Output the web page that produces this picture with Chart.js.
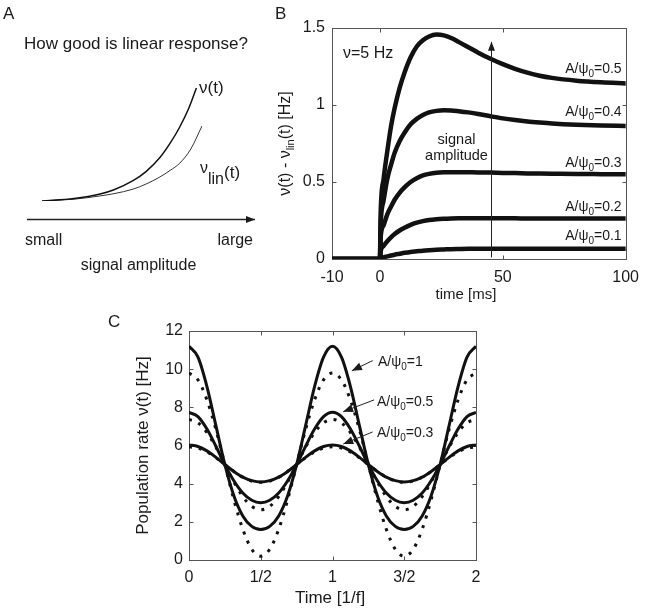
<!DOCTYPE html>
<html>
<head>
<meta charset="utf-8">
<script src="https://cdn.jsdelivr.net/npm/chart.js@4.4.1/dist/chart.umd.min.js"></script>
<style>
  body { margin: 0; background: #fff; width: 648px; height: 610px; position: relative; overflow: hidden; }
  canvas { position: absolute; }
</style>
</head>
<body>
<canvas id="chartA" width="270" height="300" style="left:0;top:0"></canvas>
<canvas id="chartB" width="378" height="310" style="left:270px;top:0"></canvas>
<canvas id="chartC" width="400" height="305" style="left:90px;top:305px"></canvas>
<script>
// ---- panel A: schematic, response vs signal amplitude (arbitrary units)
const ampNu = [0, 0.2, 0.363, 0.45, 0.569, 0.65, 0.737, 0.8, 0.861, 0.92, 0.965];
const rateNu = [0, 0.022, 0.062, 0.1, 0.18, 0.26, 0.385, 0.51, 0.655, 0.83, 1.0];
const ampLin = [0, 0.2, 0.363, 0.45, 0.569, 0.65, 0.737, 0.8, 0.861, 0.93, 1.0];
const rateLin = [0, 0.016, 0.045, 0.065, 0.105, 0.15, 0.213, 0.27, 0.335, 0.46, 0.664];

// ---- panel B: nu(t) - nu_lin(t) [Hz] vs time [ms]
const timeB = [-19.5, 0, 0.3, 1.5, 3, 4.5, 6, 8, 10, 12.5, 15, 17.5, 20, 23, 26, 29, 32, 36, 40, 45, 50, 55, 60, 65, 70, 80, 90, 100];
const diffB05 = [0, 0, 0.3, 0.52, 0.7, 0.86, 0.98, 1.11, 1.21, 1.31, 1.38, 1.42, 1.445, 1.457, 1.452, 1.435, 1.41, 1.375, 1.34, 1.3, 1.265, 1.235, 1.21, 1.19, 1.176, 1.158, 1.147, 1.14];
const diffB04 = [0, 0, 0.22, 0.38, 0.52, 0.61, 0.69, 0.765, 0.82, 0.875, 0.91, 0.935, 0.952, 0.962, 0.966, 0.965, 0.96, 0.952, 0.942, 0.927, 0.913, 0.902, 0.893, 0.886, 0.88, 0.872, 0.867, 0.864];
const diffB03 = [0, 0, 0.14, 0.22, 0.29, 0.34, 0.385, 0.43, 0.465, 0.5, 0.525, 0.543, 0.553, 0.56, 0.563, 0.564, 0.564, 0.563, 0.562, 0.561, 0.559, 0.558, 0.556, 0.555, 0.554, 0.552, 0.551, 0.55];
const diffB02 = [0, 0, 0.05, 0.085, 0.115, 0.14, 0.162, 0.185, 0.203, 0.222, 0.236, 0.246, 0.253, 0.258, 0.261, 0.263, 0.264, 0.264, 0.264, 0.264, 0.264, 0.264, 0.263, 0.263, 0.263, 0.263, 0.263, 0.263];
const diffB01 = [0, 0, 0.005, 0.011, 0.017, 0.023, 0.028, 0.034, 0.04, 0.046, 0.05, 0.054, 0.057, 0.06, 0.062, 0.064, 0.065, 0.066, 0.066, 0.066, 0.066, 0.066, 0.066, 0.066, 0.066, 0.066, 0.066, 0.066];
const ampLabelsB = ['0.5', '0.4', '0.3', '0.2', '0.1'];
const xTicksB = [-19.5, 0, 50, 100];
const xTickLabelsB = ['-10', '0', '50', '100'];
const yTicksB = [0, 0.5, 1, 1.5];
const yTickLabelsB = ['0', '0.5', '1', '1.5'];

// ---- panel C: population rate [Hz] over two periods
const timeC = [0, 0.0625, 0.125, 0.1875, 0.25, 0.3125, 0.375, 0.4375, 0.5, 0.5625, 0.625, 0.6875, 0.75, 0.8125, 0.875, 0.9375, 1,
  1.0625, 1.125, 1.1875, 1.25, 1.3125, 1.375, 1.4375, 1.5, 1.5625, 1.625, 1.6875, 1.75, 1.8125, 1.875, 1.9375, 2];
const rateC10 = [11.2, 10.63, 9.09, 7.04, 5, 3.37, 2.31, 1.76, 1.6, 1.76, 2.31, 3.37, 5, 7.04, 9.09, 10.63, 11.2,
  10.63, 9.09, 7.04, 5, 3.37, 2.31, 1.76, 1.6, 1.76, 2.31, 3.37, 5, 7.04, 9.09, 10.63, 11.2];
const linC10 = [9.8, 9.44, 8.39, 6.84, 5, 3.16, 1.61, 0.56, 0.2, 0.56, 1.61, 3.16, 5, 6.84, 8.39, 9.44, 9.8,
  9.44, 8.39, 6.84, 5, 3.16, 1.61, 0.56, 0.2, 0.56, 1.61, 3.16, 5, 6.84, 8.39, 9.44, 9.8];
const rateC05 = [7.74, 7.51, 6.86, 5.96, 5, 4.15, 3.51, 3.13, 3.0, 3.13, 3.51, 4.15, 5, 5.96, 6.86, 7.51, 7.74,
  7.51, 6.86, 5.96, 5, 4.15, 3.51, 3.13, 3.0, 3.13, 3.51, 4.15, 5, 5.96, 6.86, 7.51, 7.74];
const linC05 = [7.37, 7.19, 6.68, 5.91, 5, 4.09, 3.32, 2.81, 2.63, 2.81, 3.32, 4.09, 5, 5.91, 6.68, 7.19, 7.37,
  7.19, 6.68, 5.91, 5, 4.09, 3.32, 2.81, 2.63, 2.81, 3.32, 4.09, 5, 5.91, 6.68, 7.19, 7.37];
const rateC03 = [6.03, 5.95, 5.72, 5.38, 5, 4.64, 4.34, 4.16, 4.09, 4.16, 4.34, 4.64, 5, 5.38, 5.72, 5.95, 6.03,
  5.95, 5.72, 5.38, 5, 4.64, 4.34, 4.16, 4.09, 4.16, 4.34, 4.64, 5, 5.38, 5.72, 5.95, 6.03];
const linC03 = [5.93, 5.86, 5.66, 5.36, 5, 4.64, 4.34, 4.14, 4.07, 4.14, 4.34, 4.64, 5, 5.36, 5.66, 5.86, 5.93,
  5.86, 5.66, 5.36, 5, 4.64, 4.34, 4.14, 4.07, 4.14, 4.34, 4.64, 5, 5.36, 5.66, 5.86, 5.93];
const ampLabelsC = ['1', '0.5', '0.3'];
const xTicksC = [0, 0.5, 1, 1.5, 2];
const xTickLabelsC = ['0', '1/2', '1', '3/2', '2'];
const yTicksC = [0, 2, 4, 6, 8, 10, 12];

const FONT = '"Liberation Sans", Arial, sans-serif';
const INK = '#111';
Chart.defaults.font.family = FONT;
Chart.defaults.color = '#1a1a1a';
Chart.defaults.animation = false;

const zip = (xs, ys) => xs.map((x, i) => ({ x, y: ys[i] }));

function richText(ctx, parts, x, y, align) {
  let w = 0;
  parts.forEach(p => { ctx.font = p[1] + 'px ' + FONT; w += ctx.measureText(p[0]).width; });
  let cx = align === 'right' ? x - w : align === 'center' ? x - w / 2 : x;
  ctx.textAlign = 'left';
  ctx.textBaseline = 'alphabetic';
  parts.forEach(p => {
    ctx.font = p[1] + 'px ' + FONT;
    ctx.fillText(p[0], cx, y + (p[2] || 0));
    cx += ctx.measureText(p[0]).width;
  });
}

function arrow(ctx, x0, y0, x1, y1, len, half) {
  ctx.beginPath();
  ctx.moveTo(x0, y0);
  ctx.lineTo(x1, y1);
  ctx.stroke();
  const a = Math.atan2(y1 - y0, x1 - x0);
  const bx = x1 - len * Math.cos(a), by = y1 - len * Math.sin(a);
  ctx.beginPath();
  ctx.moveTo(x1, y1);
  ctx.lineTo(bx + half * Math.sin(a), by - half * Math.cos(a));
  ctx.lineTo(bx - half * Math.sin(a), by + half * Math.cos(a));
  ctx.closePath();
  ctx.fill();
}

// matlab style box with inward ticks on all four sides
const frame = {
  id: 'frame',
  beforeDatasetsDraw(chart) {
    const { ctx, chartArea: a } = chart;
    const x = chart.scales.x, y = chart.scales.y;
    if (!x.options.display) return;
    ctx.save();
    ctx.strokeStyle = '#555';
    ctx.lineWidth = 1;
    const L = Math.round(a.left) + 0.5, R = Math.round(a.right) + 0.5;
    const T = Math.round(a.top) + 0.5, B = Math.round(a.bottom) + 0.5;
    ctx.strokeRect(L, T, R - L, B - T);
    ctx.beginPath();
    x.ticks.forEach(t => {
      const p = Math.round(x.getPixelForValue(t.value)) + 0.5;
      ctx.moveTo(p, B); ctx.lineTo(p, B - 4);
      ctx.moveTo(p, T); ctx.lineTo(p, T + 4);
    });
    y.ticks.forEach(t => {
      const p = Math.round(y.getPixelForValue(t.value)) + 0.5;
      ctx.moveTo(L, p); ctx.lineTo(L + 4, p);
      ctx.moveTo(R, p); ctx.lineTo(R - 4, p);
    });
    ctx.stroke();
    ctx.restore();
  }
};

function fixedTicks(values, labels) {
  return {
    afterBuildTicks: s => { s.ticks = values.map(v => ({ value: v })); },
    ticks: { autoSkip: false, maxRotation: 0, callback: (v, i) => labels[i] }
  };
}

// ---------------- A
new Chart(document.getElementById('chartA'), {
  type: 'line',
  data: {
    datasets: [
      { data: zip(ampNu, rateNu), borderColor: INK, borderWidth: 1.5 },
      { data: zip(ampLin, rateLin), borderColor: '#333', borderWidth: 1 }
    ]
  },
  options: {
    responsive: false,
    devicePixelRatio: 1,
    layout: { padding: { left: 42, right: 68, top: 88, bottom: 99 } },
    elements: { point: { radius: 0 }, line: { cubicInterpolationMode: 'monotone' } },
    scales: {
      x: { type: 'linear', min: 0, max: 1, display: false },
      y: { type: 'linear', min: 0, max: 1, display: false }
    },
    plugins: { legend: { display: false }, tooltip: { enabled: false } }
  },
  plugins: [{
    id: 'textA',
    afterDraw(chart) {
      const ctx = chart.ctx;
      ctx.save();
      ctx.fillStyle = '#1a1a1a';
      ctx.strokeStyle = '#222';
      ctx.lineWidth = 1.3;
      richText(ctx, [['A', 17]], 3, 19, 'left');
      richText(ctx, [['How good is linear response?', 17]], 136, 48.5, 'center');
      richText(ctx, [['ν(t)', 17]], 199, 93, 'left');
      richText(ctx, [['ν', 16], ['lin', 16, 11], ['(t)', 17, 5]], 200, 173, 'left');
      arrow(ctx, 27, 219.5, 255, 219.5, 9, 3.5);
      richText(ctx, [['small', 16]], 25, 245, 'left');
      richText(ctx, [['large', 16]], 253, 245, 'right');
      richText(ctx, [['signal amplitude', 16]], 138.5, 270, 'center');
      ctx.restore();
    }
  }]
});

// ---------------- B
const seriesB = [diffB05, diffB04, diffB03, diffB02, diffB01];
const labelYB = [1.21, 0.93, 0.6, 0.31, 0.123];
const tickFontB = { size: 16 };
new Chart(document.getElementById('chartB'), {
  type: 'line',
  data: {
    datasets: seriesB.map(vals => ({
      data: zip(timeB, vals), borderColor: INK, borderWidth: 4.5,
      borderJoinStyle: 'round', borderCapStyle: 'round'
    }))
  },
  options: {
    responsive: false,
    devicePixelRatio: 1,
    layout: { padding: { left: 0, right: 17, top: 28, bottom: 0 } },
    elements: { point: { radius: 0 }, line: { cubicInterpolationMode: 'monotone' } },
    scales: {
      x: Object.assign({
        type: 'linear', min: -19.5, max: 100,
        grid: { display: false, drawTicks: false }, border: { display: false },
        afterFit: s => { s.height = 51; }
      }, fixedTicks(xTicksB, xTickLabelsB), { }),
      y: Object.assign({
        type: 'linear', min: 0, max: 1.5,
        grid: { display: false, drawTicks: false }, border: { display: false },
        afterFit: s => { s.width = 62; }
      }, fixedTicks(yTicksB, yTickLabelsB))
    },
    plugins: { legend: { display: false }, tooltip: { enabled: false } }
  },
  plugins: [frame, {
    id: 'textB',
    afterDraw(chart) {
      const { ctx, chartArea: a } = chart;
      const x = chart.scales.x, y = chart.scales.y;
      ctx.save();
      ctx.fillStyle = '#1a1a1a';
      ctx.strokeStyle = '#222';
      ctx.lineWidth = 1;
      richText(ctx, [['B', 17]], 5, 19, 'left');
      // amplitude arrow
      const ax = Math.round(x.getPixelForValue(45.3)) + 0.5;
      arrow(ctx, ax, y.getPixelForValue(0.01), ax, y.getPixelForValue(1.41), 9, 3.5);
      richText(ctx, [['ν=5 Hz', 16]], a.left + 11, 58, 'left');
      richText(ctx, [['signal', 14.5]], ax - 35, 144, 'center');
      richText(ctx, [['amplitude', 14.5]], ax - 35, 160, 'center');
      ampLabelsB.forEach((lab, i) => {
        richText(ctx, [['A/ψ', 14], ['0', 10, 4], ['=' + lab, 14]], a.right - 4, y.getPixelForValue(labelYB[i]), 'right');
      });
      // axis titles
      richText(ctx, [['time [ms]', 15]], 196, 299, 'center');
      ctx.translate(15, (a.top + a.bottom) / 2);
      ctx.rotate(-Math.PI / 2);
      richText(ctx, [['ν(t) - ν', 16], ['lin', 11, 4], ['(t) [Hz]', 16]], 0, 5, 'center');
      ctx.restore();
    }
  }]
});
chartBTicks();
function chartBTicks() {
  const c = Chart.getChart('chartB');
  c.options.scales.x.ticks.font = tickFontB;
  c.options.scales.x.ticks.padding = 9;
  c.options.scales.y.ticks.font = tickFontB;
  c.options.scales.y.ticks.padding = 7;
  c.update();
}

// ---------------- C
const solidC = [rateC10, rateC05, rateC03];
const dottedC = [linC10, linC05, linC03];
const labelPosC = [[1.317, 10.15], [1.31, 8.05], [1.31, 6.45]];
const arrowC = [[1.28, 10.45, 1.135, 9.92], [1.29, 8.39, 1.074, 7.77], [1.28, 6.71, 1.075, 6.08]];
new Chart(document.getElementById('chartC'), {
  type: 'line',
  data: {
    datasets: dottedC.map(vals => ({
      data: zip(timeC, vals), borderColor: INK, borderWidth: 3, borderDash: [3, 7], borderCapStyle: 'butt'
    })).concat(solidC.map(vals => ({
      data: zip(timeC, vals), borderColor: INK, borderWidth: 3, borderJoinStyle: 'round'
    })))
  },
  options: {
    responsive: false,
    devicePixelRatio: 1,
    layout: { padding: { left: 0, right: 14, top: 26, bottom: 0 } },
    elements: { point: { radius: 0 }, line: { cubicInterpolationMode: 'monotone' } },
    scales: {
      x: Object.assign({
        type: 'linear', min: 0, max: 2,
        grid: { display: false, drawTicks: false }, border: { display: false },
        afterFit: s => { s.height = 50; }
      }, fixedTicks(xTicksC, xTickLabelsC)),
      y: Object.assign({
        type: 'linear', min: 0, max: 12,
        grid: { display: false, drawTicks: false }, border: { display: false },
        afterFit: s => { s.width = 99; }
      }, fixedTicks(yTicksC, yTicksC.map(String)))
    },
    plugins: { legend: { display: false }, tooltip: { enabled: false } }
  },
  plugins: [frame, {
    id: 'textC',
    afterDraw(chart) {
      const { ctx, chartArea: a } = chart;
      const x = chart.scales.x, y = chart.scales.y;
      ctx.save();
      ctx.fillStyle = '#1a1a1a';
      ctx.strokeStyle = '#222';
      ctx.lineWidth = 1;
      richText(ctx, [['C', 17]], 18, 22, 'left');
      arrowC.forEach(r => {
        arrow(ctx, x.getPixelForValue(r[0]), y.getPixelForValue(r[1]), x.getPixelForValue(r[2]), y.getPixelForValue(r[3]), 10, 4);
      });
      ampLabelsC.forEach((lab, i) => {
        richText(ctx, [['A/ψ', 14], ['0', 10, 4], ['=' + lab, 14]], x.getPixelForValue(labelPosC[i][0]), y.getPixelForValue(labelPosC[i][1]), 'left');
      });
      richText(ctx, [['Time [1/f]', 17]], 240, 298, 'center');
      ctx.translate(53, (a.top + a.bottom) / 2);
      ctx.rotate(-Math.PI / 2);
      richText(ctx, [['Population rate ν(t) [Hz]', 17]], 0, 5, 'center');
      ctx.restore();
    }
  }]
});
(function () {
  const c = Chart.getChart('chartC');
  c.options.scales.x.ticks.font = { size: 16 };
  c.options.scales.x.ticks.padding = 8;
  c.options.scales.y.ticks.font = { size: 16 };
  c.options.scales.y.ticks.padding = 6;
  c.update();
})();
</script>
</body>
</html>
